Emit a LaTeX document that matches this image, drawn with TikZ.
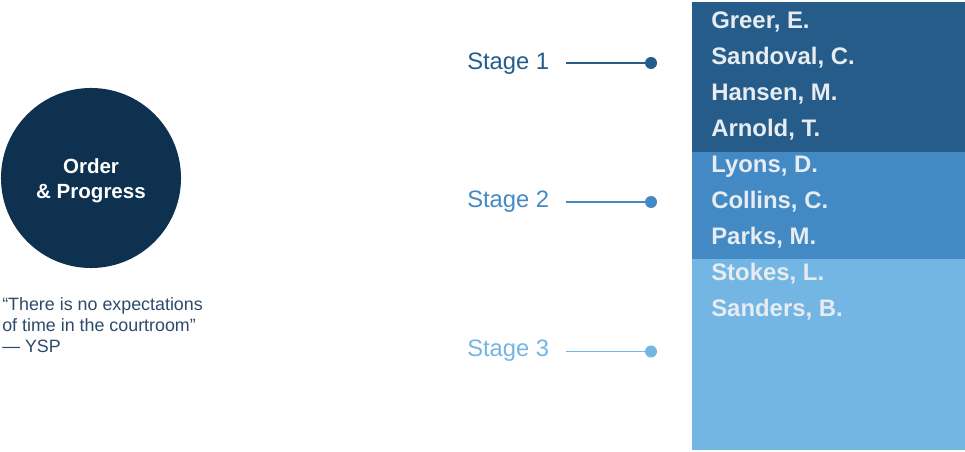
\documentclass[tikz,border=0pt]{standalone}
\usepackage{fontspec}
\setmainfont{Liberation Sans}
\usetikzlibrary{positioning}
\definecolor{navy}{HTML}{0E3150}
\definecolor{quoteblue}{HTML}{2D4A6B}
\definecolor{stageone}{HTML}{265C89}
\definecolor{stagetwo}{HTML}{438AC5}
\definecolor{stagethree}{HTML}{74B6E3}
\definecolor{namegray}{HTML}{E6ECF2}
\tikzset{
  member/.style={anchor=base west, inner sep=0pt, text=namegray, font=\fontsize{17}{20}\selectfont\bfseries},
  stagelabel/.style={anchor=base west, inner sep=0pt, font=\fontsize{16.9}{20}\selectfont},
  stagedot/.style={circle, fill, inner sep=0pt, minimum size=0.3cm},
  stageline/.style={line width=1.1pt}
}
\begin{document}
\begin{tikzpicture}[x=0.025cm,y=-0.025cm]
\useasboundingbox (0,0) rectangle (965,452);

\node[circle, fill=navy, minimum size=4.5cm, inner sep=0pt] (order) at (91,178) {};
\node[anchor=base, align=center, inner sep=0pt, text=white,
      font=\fontsize{14.6}{17.8}\selectfont\bfseries] (ordertext) at (91,199) {Order\\\& Progress};

\node[anchor=base west, align=left, inner sep=0pt, text=quoteblue,
      font=\fontsize{12.7}{14.9}\selectfont] (quote) at (2,352)
  {“There is no expectations\\of time in the courtroom”\\— YSP};

\fill[stageone] (692,2) rectangle (965,152);
\fill[stagetwo] (692,152) rectangle (965,259);
\fill[stagethree] (692,259) rectangle (965,450);

\node[stagelabel, text=stageone] (s1) at (467,69.3) {Stage 1};
\node[stagelabel, text=stagetwo] (s2) at (467,207.5) {Stage 2};
\node[stagelabel, text=stagethree] (s3) at (467,356.7) {Stage 3};

\node[stagedot, fill=stageone] (d1) at (651,63) {};
\node[stagedot, fill=stagetwo] (d2) at (651,202) {};
\node[stagedot, fill=stagethree] (d3) at (651,351.5) {};

\coordinate (l1) at (566,63);
\coordinate (l2) at (566,202);
\coordinate (l3) at (566,351.5);
\draw[stageline, stageone] (l1) -- (d1);
\draw[stageline, stagetwo] (l2) -- (d2);
\draw[stageline, stagethree] (l3) -- (d3);

\foreach \who [count=\i from 0] in {{Greer, E.},{Sandoval, C.},{Hansen, M.},{Arnold, T.},{Lyons, D.},{Collins, C.},{Parks, M.},{Stokes, L.},{Sanders, B.}}
  \node[member] (n\i) at (711,28.5+36*\i) {\who};
\end{tikzpicture}
\end{document}
